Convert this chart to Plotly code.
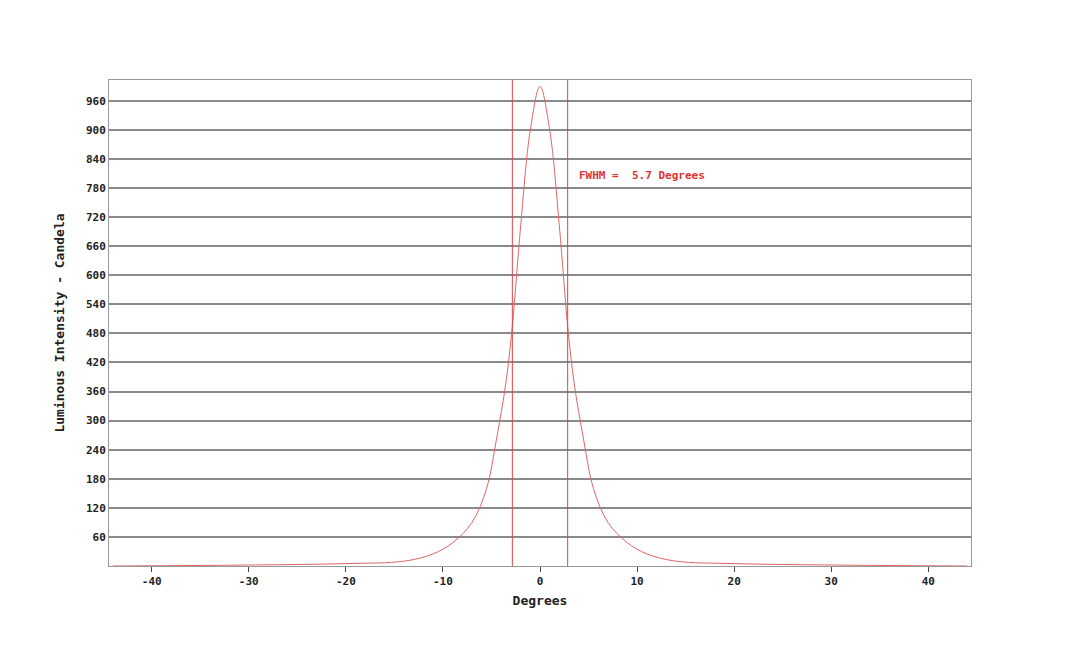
import plotly.graph_objects as go

degrees = [-44, -30, -20, -14, -11, -9, -7, -5.5, -4.5, -3.5, -2.85, -2, -1, 0, 1, 2, 2.85, 3.5, 4.5, 5.5, 7, 9, 11, 14, 20, 30, 44]
intensity = [0, 2, 5, 10, 25, 48, 90, 160, 260, 380, 495, 700, 900, 990, 900, 700, 495, 380, 260, 160, 90, 48, 25, 10, 5, 2, 0]
fwhm_lines = [-2.85, 2.85]
x_ticks = [-40, -30, -20, -10, 0, 10, 20, 30, 40]
y_ticks = list(range(60, 1000, 60))

red = "#d33"
font = dict(family="DejaVu Sans Mono", size=11, color="#222")

fig = go.Figure()
fig.add_trace(go.Scatter(x=degrees, y=intensity, mode="lines",
                         line=dict(color="#e06666", width=1, shape="spline", smoothing=1.0),
                         showlegend=False))
for v in fwhm_lines:
    fig.add_vline(x=v, line=dict(color="#d44", width=1))
fig.add_annotation(x=3.8, y=805, xanchor="left", text="<b>FWHM =  5.7 Degrees</b>", showarrow=False,
                   font=dict(family="DejaVu Sans Mono", size=11, color=red))
fig.update_layout(
    width=1080, height=646, paper_bgcolor="white", plot_bgcolor="white",
    margin=dict(l=101, r=117, t=72, b=88), font=font,
    xaxis=dict(range=[-44.4, 44.4], tickvals=x_ticks, ticktext=[f"<b>{t}</b>" for t in x_ticks],
               ticks="outside", ticklen=5, tickcolor="#444", showgrid=False, zeroline=False,
               showline=True, linecolor="#999", mirror=True,
               title=dict(text="<b>Degrees</b>", standoff=8)),
    yaxis=dict(range=[0, 1003], tickvals=y_ticks, ticktext=[f"<b>{t}</b>" for t in y_ticks],
               showgrid=True, gridcolor="#8a8a8a", gridwidth=1.5, zeroline=False,
               showline=True, linecolor="#999", mirror=True,
               title=dict(text="<b>Luminous Intensity - Candela</b>", standoff=18)),
)
fig.write_html("out.html")
